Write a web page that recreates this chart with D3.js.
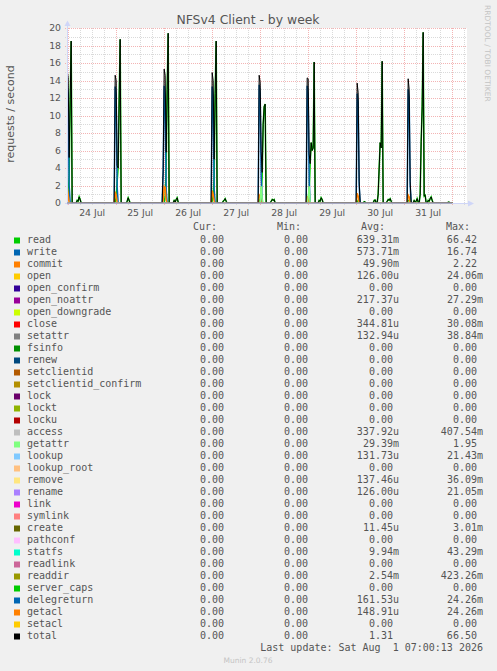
<!DOCTYPE html>
<html><head><meta charset="utf-8">
<script src="https://cdn.jsdelivr.net/npm/d3@7"></script>
<style>
html,body{margin:0;padding:0;background:#F0F0F0;}
svg{display:block;}
text{font-family:"DejaVu Sans",sans-serif;}
.mono{font-family:"DejaVu Sans Mono",monospace;font-size:10px;fill:#555;white-space:pre;}
</style></head><body>
<svg id="c" width="497" height="671"></svg>
<script>
// ---------------- DATA ----------------
const seriesNames = ["read","write","commit","open","open_confirm","open_noattr","open_downgrade","close","setattr","fsinfo","renew","setclientid","setclientid_confirm","lock","lockt","locku","access","getattr","lookup","lookup_root","remove","rename","link","symlink","create","pathconf","statfs","readlink","readdir","server_caps","delegreturn","getacl","setacl","total"];
const seriesColors = ["#00CC00","#0066B3","#FF8000","#FFCC00","#330099","#990099","#CCFF00","#FF0000","#808080","#008F00","#00487D","#B35A00","#B38F00","#6B006B","#8FB300","#B30000","#BEBEBE","#80FF80","#80C9FF","#FFC080","#FFE680","#AA80FF","#EE00CC","#FF8080","#666600","#FFBFFF","#00FFCC","#CC6699","#999900","#00CC00","#0066B3","#FF8000","#FFCC00","#000000"];
const curValues = Array.from({length:34}, () => "0.00");
const minValues = Array.from({length:34}, () => "0.00");
const avgValues = ["639.31m","573.71m","49.90m","126.00u","0.00","217.37u","0.00","344.81u","132.94u","0.00","0.00","0.00","0.00","0.00","0.00","0.00","337.92u","29.39m","131.73u","0.00","137.46u","126.00u","0.00","0.00","11.45u","0.00","9.94m","0.00","2.54m","0.00","161.53u","148.91u","0.00","1.31"];
const maxValues = ["66.42","16.74","2.22","24.06m","0.00","27.29m","0.00","30.08m","38.84m","0.00","0.00","0.00","0.00","0.00","0.00","0.00","407.54m","1.95","21.43m","0.00","36.09m","21.05m","0.00","0.00","3.01m","0.00","43.29m","0.00","423.26m","0.00","24.26m","24.26m","0.00","66.50"];

const readPoints = [
["07-23 23:00",0],["07-23 23:30",0],["07-24 00:00",0.8],["07-24 00:30",3.2],["07-24 01:00",11.8],["07-24 01:30",18.5],["07-24 02:00",0],
["07-24 04:00",0],["07-24 04:30",0.3],["07-24 05:00",0.2],["07-24 05:30",0.7],["07-24 06:00",0.4],["07-24 06:30",0],
["07-24 23:30",0],["07-25 00:00",0.7],["07-25 00:30",2.5],["07-25 01:00",4.0],["07-25 01:30",12.0],["07-25 02:00",18.7],["07-25 02:30",0],
["07-25 05:00",0],["07-25 05:30",0.2],["07-25 06:00",0.6],["07-25 06:30",0.3],["07-25 07:00",0],
["07-26 00:00",0],["07-26 00:30",0.8],["07-26 01:00",4.0],["07-26 01:30",13.0],["07-26 02:00",19.4],["07-26 02:30",0],
["07-26 04:30",0],["07-26 05:00",0.3],["07-26 05:30",0.1],["07-26 06:00",0.4],["07-26 06:30",0.6],["07-26 07:00",0.1],["07-26 07:30",0],
["07-26 23:30",0],["07-27 00:00",0.2],["07-27 00:30",0.8],["07-27 01:00",3.2],["07-27 01:30",12.5],["07-27 02:00",18.5],["07-27 02:30",0],
["07-27 05:00",0],["07-27 05:30",0.2],["07-27 06:00",0.3],["07-27 06:30",0.5],["07-27 07:00",0.2],["07-27 07:30",0],
["07-27 23:00",0],["07-27 23:30",0.2],["07-28 00:00",0.5],["07-28 00:30",1.0],["07-28 01:00",3.0],["07-28 01:30",9.0],["07-28 02:00",11.0],["07-28 02:30",11.3],["07-28 03:00",0],
["07-28 05:00",0],["07-28 05:30",0.2],["07-28 06:00",0.4],["07-28 06:30",0.3],["07-28 07:00",0.4],["07-28 07:30",0],
["07-28 23:00",0],["07-28 23:30",0.2],["07-29 00:00",0.6],["07-29 00:30",1.2],["07-29 01:00",4.5],["07-29 01:30",6.9],["07-29 02:00",6.0],["07-29 02:30",6.3],["07-29 03:00",16.1],["07-29 03:30",0],
["07-29 05:00",0],["07-29 05:30",0.3],["07-29 06:00",0.2],["07-29 06:30",0.6],["07-29 07:00",0.4],["07-29 07:30",0],
["07-30 00:00",0],["07-30 00:30",0.1],["07-30 01:00",0.3],["07-30 01:30",0.5],["07-30 02:00",0],
["07-30 03:30",0],["07-30 04:00",0.15],["07-30 04:30",0.1],["07-30 05:00",0],
["07-30 08:30",0],["07-30 09:00",0.3],["07-30 09:30",0.35],["07-30 10:00",0],
["07-30 10:30",0],["07-30 11:00",1.0],["07-30 11:30",4.0],["07-30 12:00",6.9],["07-30 12:30",6.3],["07-30 13:00",16.2],["07-30 13:30",0],
["07-30 15:00",0],["07-30 15:30",0.2],["07-30 16:00",0.4],["07-30 16:30",0.3],["07-30 17:00",0.5],["07-30 17:30",0.2],["07-30 18:00",0],
["07-31 01:30",0],["07-31 02:00",0.3],["07-31 02:30",0.3],["07-31 03:00",0.5],["07-31 03:30",0],
["07-31 04:30",0],["07-31 05:00",0.3],["07-31 05:30",0.1],["07-31 06:00",0.2],["07-31 06:30",0.5],["07-31 07:00",0.1],["07-31 07:30",0],
["07-31 08:00",1.0],["07-31 08:30",7.0],["07-31 09:00",11.0],["07-31 09:30",19.5],["07-31 10:00",0.8],["07-31 10:30",0.9],["07-31 11:00",0],
["07-31 11:30",0],["07-31 12:00",0.3],["07-31 12:30",0.2],["07-31 13:00",0.5],["07-31 13:30",0.7],["07-31 14:00",0.3],["07-31 14:30",0],
["07-31 21:30",0],["07-31 22:00",0.1],["07-31 22:30",0.1],["07-31 23:00",0],
["08-01 00:00",0]
];
const writePoints = [
["07-23 23:00",0],["07-23 23:30",13.3],["07-24 00:00",12.5],["07-24 00:30",2.0],["07-24 01:00",0],
["07-24 23:00",0],["07-24 23:30",13.3],["07-25 00:00",12.4],["07-25 00:30",1.8],["07-25 01:00",0],
["07-25 23:00",0],["07-25 23:30",3.5],["07-26 00:00",13.4],["07-26 00:30",12.0],["07-26 01:00",1.5],["07-26 01:30",0],
["07-26 23:30",0],["07-27 00:00",13.3],["07-27 00:30",12.2],["07-27 01:00",1.6],["07-27 01:30",0],
["07-27 23:00",0],["07-27 23:30",13.5],["07-28 00:00",12.6],["07-28 00:30",3.0],["07-28 01:00",0],
["07-28 23:00",0],["07-28 23:30",13.4],["07-29 00:00",12.4],["07-29 00:30",2.5],["07-29 01:00",0],
["07-30 00:00",0],["07-30 00:30",12.5],["07-30 01:00",11.5],["07-30 01:30",2.0],["07-30 02:00",0],
["07-31 01:30",0],["07-31 02:00",13.0],["07-31 02:30",12.0],["07-31 03:00",2.0],["07-31 03:30",0],
["08-01 00:00",0]
];
const commitPoints = [
["07-23 23:00",0],["07-23 23:30",1.9],["07-24 00:00",1.0],["07-24 00:30",0],
["07-24 23:00",0],["07-24 23:30",1.3],["07-25 00:00",0.9],["07-25 00:30",0],
["07-25 23:00",0],["07-25 23:30",0.3],["07-26 00:00",1.9],["07-26 00:30",1.8],["07-26 01:00",0.3],["07-26 01:30",0],
["07-26 23:30",0],["07-27 00:00",1.4],["07-27 00:30",1.0],["07-27 01:00",0.2],["07-27 01:30",0],
["07-27 23:00",0],["07-27 23:30",0.9],["07-28 00:00",0.7],["07-28 00:30",0],
["07-28 23:00",0],["07-28 23:30",0.7],["07-29 00:00",0.6],["07-29 00:30",0],
["07-30 00:00",0],["07-30 00:30",1.1],["07-30 01:00",0.8],["07-30 01:30",0],
["07-31 01:30",0],["07-31 02:00",0.9],["07-31 02:30",0.7],["07-31 03:00",0],
["08-01 00:00",0]
];
const getattrPoints = [
["07-23 23:00",0],
["07-28 00:00",0],["07-28 00:30",1.9],["07-28 01:00",0.5],["07-28 01:30",0],
["07-28 23:30",0],["07-29 00:00",0.6],["07-29 00:30",1.9],["07-29 01:00",0],
["08-01 00:00",0]
];
const totalPoints = [
["07-23 23:00",0],["07-23 23:30",15.2],["07-24 00:00",14.3],["07-24 00:30",5.2],["07-24 01:00",11.8],["07-24 01:30",18.5],["07-24 02:00",0],
["07-24 04:00",0],["07-24 04:30",0.3],["07-24 05:00",0.2],["07-24 05:30",0.7],["07-24 06:00",0.4],["07-24 06:30",0],
["07-24 23:00",0],["07-24 23:30",14.6],["07-25 00:00",14.0],["07-25 00:30",4.3],["07-25 01:00",4.0],["07-25 01:30",12.0],["07-25 02:00",18.7],["07-25 02:30",0],
["07-25 05:00",0],["07-25 05:30",0.2],["07-25 06:00",0.6],["07-25 06:30",0.3],["07-25 07:00",0],
["07-25 23:00",0],["07-25 23:30",3.8],["07-26 00:00",15.3],["07-26 00:30",14.6],["07-26 01:00",5.8],["07-26 01:30",13.0],["07-26 02:00",19.4],["07-26 02:30",0],
["07-26 04:30",0],["07-26 05:00",0.3],["07-26 05:30",0.1],["07-26 06:00",0.4],["07-26 06:30",0.6],["07-26 07:00",0.1],["07-26 07:30",0],
["07-26 23:30",0],["07-27 00:00",14.9],["07-27 00:30",14.0],["07-27 01:00",5.0],["07-27 01:30",12.5],["07-27 02:00",18.5],["07-27 02:30",0],
["07-27 05:00",0],["07-27 05:30",0.2],["07-27 06:00",0.3],["07-27 06:30",0.5],["07-27 07:00",0.2],["07-27 07:30",0],
["07-27 23:00",0],["07-27 23:30",14.6],["07-28 00:00",13.8],["07-28 00:30",5.9],["07-28 01:00",3.5],["07-28 01:30",9.0],["07-28 02:00",11.0],["07-28 02:30",11.3],["07-28 03:00",0],
["07-28 05:00",0],["07-28 05:30",0.2],["07-28 06:00",0.4],["07-28 06:30",0.3],["07-28 07:00",0.4],["07-28 07:30",0],
["07-28 23:00",0],["07-28 23:30",14.3],["07-29 00:00",14.2],["07-29 00:30",5.6],["07-29 01:00",4.5],["07-29 01:30",6.9],["07-29 02:00",6.0],["07-29 02:30",6.3],["07-29 03:00",16.1],["07-29 03:30",0],
["07-29 05:00",0],["07-29 05:30",0.3],["07-29 06:00",0.2],["07-29 06:30",0.6],["07-29 07:00",0.4],["07-29 07:30",0],
["07-30 00:00",0],["07-30 00:30",13.7],["07-30 01:00",12.6],["07-30 01:30",2.5],["07-30 02:00",0],
["07-30 03:30",0],["07-30 04:00",0.15],["07-30 04:30",0.1],["07-30 05:00",0],
["07-30 08:30",0],["07-30 09:00",0.3],["07-30 09:30",0.35],["07-30 10:00",0],
["07-30 10:30",0],["07-30 11:00",1.0],["07-30 11:30",4.0],["07-30 12:00",6.9],["07-30 12:30",6.3],["07-30 13:00",16.2],["07-30 13:30",0],
["07-30 15:00",0],["07-30 15:30",0.2],["07-30 16:00",0.4],["07-30 16:30",0.3],["07-30 17:00",0.5],["07-30 17:30",0.2],["07-30 18:00",0],
["07-31 01:30",0],["07-31 02:00",14.2],["07-31 02:30",13.0],["07-31 03:00",2.5],["07-31 03:30",0],
["07-31 04:30",0],["07-31 05:00",0.3],["07-31 05:30",0.1],["07-31 06:00",0.2],["07-31 06:30",0.5],["07-31 07:00",0.1],["07-31 07:30",0],
["07-31 08:00",1.0],["07-31 08:30",7.0],["07-31 09:00",11.0],["07-31 09:30",19.5],["07-31 10:00",0.8],["07-31 10:30",0.9],["07-31 11:00",0],
["07-31 11:30",0],["07-31 12:00",0.3],["07-31 12:30",0.2],["07-31 13:00",0.5],["07-31 13:30",0.7],["07-31 14:00",0.3],["07-31 14:30",0],
["07-31 21:30",0],["07-31 22:00",0.1],["07-31 22:30",0.1],["07-31 23:00",0],
["08-01 00:00",0]
];
const zeroPoints = [["07-23 23:00",0],["08-01 00:00",0]];

const yTickValues = [0,2,4,6,8,10,12,14,16,18,20];
const xTickLabels = ["24 Jul","25 Jul","26 Jul","27 Jul","28 Jul","29 Jul","30 Jul","31 Jul"];
const xTickDates  = ["07-24 12:00","07-25 12:00","07-26 12:00","07-27 12:00","07-28 12:00","07-29 12:00","07-30 12:00","07-31 12:00"];
const timeWindow  = ["07-23 23:25","08-01 07:25"];

const titleText = "NFSv4 Client - by week";
const yLabelText = "requests / second";
const lastUpdateText = "Last update: Sat Aug  1 07:00:13 2026";

// ---------------- DRAW ----------------
const parse = s => d3.utcParse("%Y-%m-%d %H:%M")("2026-" + s);
const svg = d3.select("#c");
const L = 67, R = 467, T = 28, B = 203;

const x = d3.scaleUtc().domain(timeWindow.map(parse)).range([L, R]);
const y = d3.scaleLinear().domain([0, 20]).range([B, T]);

svg.append("rect").attr("width",497).attr("height",671).attr("fill","#F0F0F0");
svg.append("rect").attr("x",L).attr("y",T).attr("width",R-L).attr("height",B-T).attr("fill","#FFFFFF");

const grid = svg.append("g").attr("shape-rendering","crispEdges");
const [d0, d1] = x.domain();
const minorCol = "#dadada", majorCol = "#f3b4b4";
d3.utcHour.every(6).range(d0, d1).filter(d => d.getUTCHours() !== 0).forEach(d => {
  const px = Math.round(x(d)) + 0.5;
  grid.append("line").attr("x1",px).attr("x2",px).attr("y1",T).attr("y2",B+2)
    .attr("stroke",minorCol).attr("stroke-dasharray","1,1");
});
y.ticks(20).filter(v => v % 2 === 1).forEach(v => {
  const py = Math.round(y(v)) + 0.5;
  grid.append("line").attr("x1",L-2).attr("x2",R).attr("y1",py).attr("y2",py)
    .attr("stroke",minorCol).attr("stroke-dasharray","1,1");
});
d3.utcDay.range(d0, d1).forEach(d => {
  const px = Math.round(x(d)) + 0.5;
  grid.append("line").attr("x1",px).attr("x2",px).attr("y1",T).attr("y2",B+3)
    .attr("stroke",majorCol).attr("stroke-dasharray","1,1");
});
yTickValues.forEach(v => {
  const py = Math.round(y(v)) + 0.5;
  grid.append("line").attr("x1",L-2).attr("x2",R).attr("y1",py).attr("y2",py)
    .attr("stroke",majorCol).attr("stroke-dasharray","1,1");
});

// data lines
const dataBy = {read: readPoints, write: writePoints, commit: commitPoints, getattr: getattrPoints, total: totalPoints};
svg.append("clipPath").attr("id","clip").append("rect").attr("x",L).attr("y",T-8).attr("width",R-L).attr("height",B-T+8);
const line = d3.line().x(d => x(parse(d[0]))).y(d => y(d[1]));
const plot = svg.append("g").attr("clip-path","url(#clip)");
seriesNames.forEach((name, i) => {
  const has = !!dataBy[name];
  const pts = has ? dataBy[name] : zeroPoints;
  plot.append("path").attr("d", line(pts)).attr("fill","none")
    .attr("stroke", seriesColors[i])
    .attr("stroke-width", (name === "total" || !has) ? 1 : 1.5);
});

// axes (drawn over data baseline)
const axisColor = "#CFD6F8";
svg.append("line").attr("x1",L+0.5).attr("x2",L+0.5).attr("y1",B+2).attr("y2",24).attr("stroke",axisColor);
svg.append("line").attr("x1",L-2).attr("x2",470).attr("y1",B+0.5).attr("y2",B+0.5).attr("stroke",axisColor);
// zero-line where data exists (total at 0 blended with axis)
const dataEnd = parse(zeroPoints[1][0]);
svg.append("line").attr("x1",L).attr("x2",x(dataEnd)).attr("y1",B).attr("y2",B)
  .attr("stroke","#9a9ab2").attr("stroke-width",1.6);
svg.append("path").attr("d",`M${L-2.5},26 L${L+0.5},20.5 L${L+3.5},26 Z`).attr("fill",axisColor);
svg.append("path").attr("d",`M468,${B-2.5} L474,${B+0.5} L468,${B+3.5} Z`).attr("fill",axisColor);

// y tick labels
svg.append("g").selectAll("text").data(yTickValues).join("text")
  .attr("x",61).attr("y",v => y(v) + 3.4).attr("text-anchor","end")
  .attr("font-size",9.3).attr("fill","#555").text(v => v);
// x tick labels
svg.append("g").selectAll("text").data(xTickLabels).join("text")
  .attr("x",(t,i) => x(parse(xTickDates[i]))).attr("y",215.5).attr("text-anchor","middle")
  .attr("font-size",9.3).attr("fill","#555").text(t => t);

// title
svg.append("text").attr("x",248).attr("y",23.5).attr("text-anchor","middle")
  .attr("font-size",12.4).attr("fill","#555").text(titleText);
// y label
svg.append("text").attr("transform","translate(14,114) rotate(-90)").attr("text-anchor","middle")
  .attr("font-size",11).attr("fill","#555").text(yLabelText);
// watermark
svg.append("text").attr("transform","translate(484.5,5) rotate(90)").attr("text-anchor","start")
  .attr("font-size",7.5).attr("fill","#c4c4c4").text("RRDTOOL / TOBI OETIKER");

// legend headers
const colEnds = [230, 314, 399, 483];
const heads = ["Cur:","Min:","Avg:","Max:"];
const headEnds = [217, 301, 385, 470];
heads.forEach((h,i) => svg.append("text").attr("class","mono").attr("x",headEnds[i]).attr("y",230)
  .attr("text-anchor","end").text(h));

const cols = [curValues, minValues, avgValues, maxValues];
seriesNames.forEach((name, i) => {
  const by = 243 + 12 * i;
  svg.append("rect").attr("x",14).attr("y",by-5.5).attr("width",6).attr("height",6).attr("fill",seriesColors[i]);
  svg.append("text").attr("class","mono").attr("x",27).attr("y",by).text(name);
  cols.forEach((col, c) => {
    const v = col[i];
    const hasSuffix = /[a-zA-Z]$/.test(v);
    svg.append("text").attr("class","mono").attr("x", hasSuffix ? colEnds[c] : colEnds[c] - 6.02)
      .attr("y",by).attr("text-anchor","end").text(v);
  });
});

svg.append("text").attr("class","mono").attr("x",483).attr("y",651).attr("text-anchor","end").text(lastUpdateText);
svg.append("text").attr("x",248).attr("y",663).attr("text-anchor","middle")
  .attr("font-size",7.5).attr("fill","#c4c4c4").text("Munin 2.0.76");
</script>
</body></html>
